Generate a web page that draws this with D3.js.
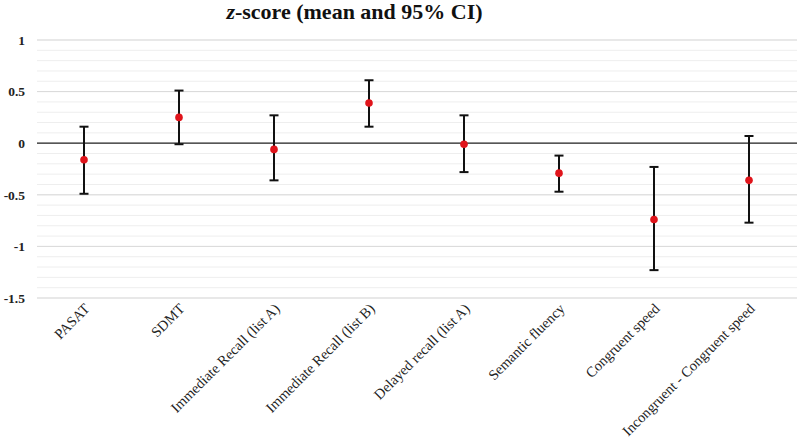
<!DOCTYPE html>
<html><head><meta charset="utf-8">
<script src="https://cdn.jsdelivr.net/npm/d3@7"></script>
<style>body{margin:0;background:#fff}</style>
</head><body><svg id="c" width="800" height="440"></svg>
<script>
const categories = ["PASAT","SDMT","Immediate Recall (list A)","Immediate Recall (list B)","Delayed recall (list A)","Semantic fluency","Congruent speed","Incongruent - Congruent speed"];
const means = [-0.16, 0.25, -0.06, 0.39, -0.01, -0.29, -0.74, -0.36];
const lowers = [-0.49, -0.01, -0.36, 0.16, -0.28, -0.47, -1.23, -0.77];
const uppers = [0.16, 0.51, 0.27, 0.61, 0.27, -0.12, -0.23, 0.07];
const yTicks = [1, 0.5, 0, -0.5, -1, -1.5];
const yTickLabels = ["1","0.5","0","-0.5","-1","-1.5"];
const minorTicks = d3.range(-15, 11).map(d => d / 10);

const svg = d3.select("#c");
const x = d3.scaleBand().domain(categories).range([36.5, 796.5]);
const y = d3.scaleLinear().domain([-1.5, 1]).range([298, 40]);
const serif = "'Liberation Serif','Times New Roman',serif";

// minor grid
svg.append("g").selectAll("line").data(minorTicks).join("line")
  .attr("x1", 37).attr("x2", 797).attr("y1", d => y(d)).attr("y2", d => y(d))
  .attr("stroke", "#eeeeee").attr("stroke-width", 1);
// major grid
svg.append("g").selectAll("line").data(yTicks.filter(d => d !== 0)).join("line")
  .attr("x1", 37).attr("x2", 797).attr("y1", d => y(d)).attr("y2", d => y(d))
  .attr("stroke", "#d9d9d9").attr("stroke-width", 1);
// zero line
svg.append("line").attr("x1", 37).attr("x2", 797).attr("y1", y(0)).attr("y2", y(0))
  .attr("stroke", "#222").attr("stroke-width", 1.3);

// y labels
svg.append("g").selectAll("text").data(yTicks).join("text")
  .attr("x", 25).attr("y", d => y(d)).attr("dy", "0.35em")
  .attr("text-anchor", "end").attr("font-family", serif).attr("font-weight", "bold")
  .attr("font-size", 13.5).attr("fill", "#222").text((d, i) => yTickLabels[i]);

// x labels
svg.append("g").selectAll("text").data(categories).join("text")
  .attr("transform", d => `translate(${x(d) + x.bandwidth() / 2 + 3},${306}) rotate(-45)`)
  .attr("text-anchor", "end").attr("dy", "0.35em")
  .attr("font-family", serif).attr("font-size", 14.5).attr("fill", "#222").text(d => d);

// error bars
const g = svg.append("g");
const cx = d => x(d) + x.bandwidth() / 2;
g.selectAll(".v").data(categories).join("line")
  .attr("x1", cx).attr("x2", cx)
  .attr("y1", (d, i) => y(uppers[i])).attr("y2", (d, i) => y(lowers[i]))
  .attr("stroke", "#111").attr("stroke-width", 2);
g.selectAll(".t").data(categories).join("line")
  .attr("x1", d => cx(d) - 4.5).attr("x2", d => cx(d) + 4.5)
  .attr("y1", (d, i) => y(uppers[i])).attr("y2", (d, i) => y(uppers[i]))
  .attr("stroke", "#111").attr("stroke-width", 2);
g.selectAll(".b").data(categories).join("line")
  .attr("x1", d => cx(d) - 4.5).attr("x2", d => cx(d) + 4.5)
  .attr("y1", (d, i) => y(lowers[i])).attr("y2", (d, i) => y(lowers[i]))
  .attr("stroke", "#111").attr("stroke-width", 2);
g.selectAll("circle").data(categories).join("circle")
  .attr("cx", cx).attr("cy", (d, i) => y(means[i])).attr("r", 3.8)
  .attr("fill", "#e0141b");

// title
const t = svg.append("text").attr("x", 354.5).attr("y", 19).attr("text-anchor", "middle")
  .attr("font-family", serif).attr("font-weight", "bold").attr("font-size", 22).attr("fill", "#111");
t.append("tspan").attr("font-style", "italic").text("z");
t.append("tspan").text("-score (mean and 95% CI)");
</script></body></html>
